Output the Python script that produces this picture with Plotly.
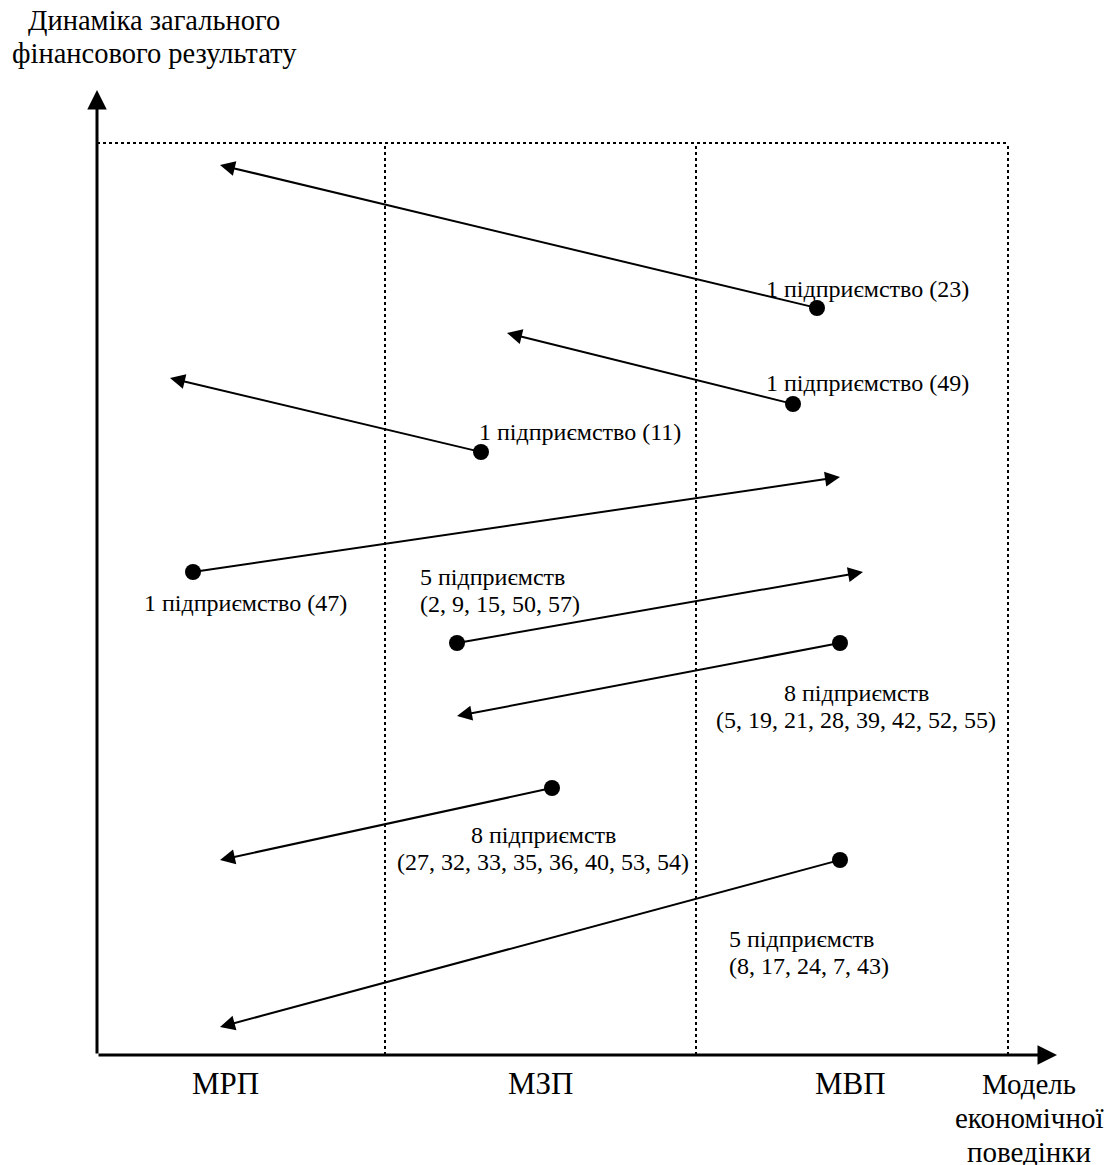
import plotly.graph_objects as go

# ---- data (x: position along "model" axis, y: financial-result dynamics) ----
groups = ["1 підприємство (23)", "1 підприємство (49)", "1 підприємство (11)",
          "1 підприємство (47)", "5 підприємств<br>(2, 9, 15, 50, 57)",
          "8 підприємств<br>(5, 19, 21, 28, 39, 42, 52, 55)",
          "8 підприємств<br>(27, 32, 33, 35, 36, 40, 53, 54)",
          "5 підприємств<br>(8, 17, 24, 7, 43)"]
start_x = [720, 696, 384, 96, 360, 743, 455, 743]
start_y = [747, 651, 603, 483, 412, 412, 267, 195]
end_x = [123, 410, 73, 743, 766, 360, 123, 123]
end_y = [890, 722, 677, 578, 483, 339, 195, 28]
label_x = [770, 770, 483, 148, 321, 759, 446, 630]
label_y = [766, 672, 623, 452, 465, 349, 207, 103]
label_align = ["center", "center", "center", "center", "left", "center", "center", "left"]

models = ["МРП", "МЗП", "МВП"]
model_x = [128, 443, 753]
model_y = -28
zone_bounds = [0, 288, 599, 911]
zone_top = 912
x_axis_end = 960
y_axis_end = 965

x_title = "Модель<br>економічної<br>поведінки"
x_title_pos = (932, -63)
y_title = "Динаміка загального<br>фінансового результату"
y_title_pos = (57, 1018)

FONT = "Liberation Serif, Times New Roman, serif"
PAGE_OFFSET = 8  # browser body margin

fig = go.Figure()

# dots (starting positions)
fig.add_trace(go.Scatter(x=start_x, y=start_y, mode="markers",
                         marker=dict(size=16, color="black"),
                         hoverinfo="skip", showlegend=False))

annotations = []


def add_text(text, x, y, size, spacing, align="center"):
    lines = text.split("<br>")
    n = len(lines)
    for i, ln in enumerate(lines):
        yy = y + (n - 1) / 2 * spacing - i * spacing
        annotations.append(dict(x=x, y=yy, xref="x", yref="y", text=ln,
                                showarrow=False,
                                xanchor="left" if align == "left" else "center",
                                yanchor="middle",
                                font=dict(family=FONT, size=size, color="black")))


# movement arrows
for sx, sy, ex, ey in zip(start_x, start_y, end_x, end_y):
    annotations.append(dict(x=ex, y=ey, ax=sx, ay=sy, xref="x", yref="y",
                            axref="x", ayref="y", text="", showarrow=True,
                            arrowhead=2, arrowsize=1.5, arrowwidth=2,
                            arrowcolor="black", standoff=0, startstandoff=0))
# group labels
for t, lx, ly, al in zip(groups, label_x, label_y, label_align):
    add_text(t, lx, ly, 24, 27, al)

# axes with arrows
annotations.append(dict(x=x_axis_end, y=0, ax=0, ay=0, xref="x", yref="y",
                        axref="x", ayref="y", text="", showarrow=True,
                        arrowhead=2, arrowsize=1.3, arrowwidth=3,
                        arrowcolor="black", standoff=0))
annotations.append(dict(x=0, y=y_axis_end, ax=0, ay=0, xref="x", yref="y",
                        axref="x", ayref="y", text="", showarrow=True,
                        arrowhead=2, arrowsize=1.3, arrowwidth=3,
                        arrowcolor="black", standoff=0))
# model tick labels
for m, mx in zip(models, model_x):
    add_text(m, mx, model_y, 31, 35)
add_text(x_title, x_title_pos[0], x_title_pos[1], 29, 34)
add_text(y_title, y_title_pos[0], y_title_pos[1], 28.5, 33)

shapes = []
dot = dict(color="black", width=2, dash="dot")
shapes.append(dict(type="line", xref="x", yref="y", x0=zone_bounds[0], x1=zone_bounds[-1],
                   y0=zone_top, y1=zone_top, line=dot))
for b in zone_bounds[1:]:
    shapes.append(dict(type="line", xref="x", yref="y", x0=b, x1=b,
                       y0=0, y1=zone_top, line=dot))

fig.update_layout(
    width=1114, height=1165,
    margin=dict(l=0, r=0, t=0, b=0),
    paper_bgcolor="white", plot_bgcolor="white",
    xaxis=dict(range=[-97 + PAGE_OFFSET, 1017 + PAGE_OFFSET], visible=False, fixedrange=True),
    yaxis=dict(range=[-110 - PAGE_OFFSET, 1055 - PAGE_OFFSET], visible=False, fixedrange=True),
    annotations=annotations, shapes=shapes,
    showlegend=False,
)

fig.write_html("out.html")
